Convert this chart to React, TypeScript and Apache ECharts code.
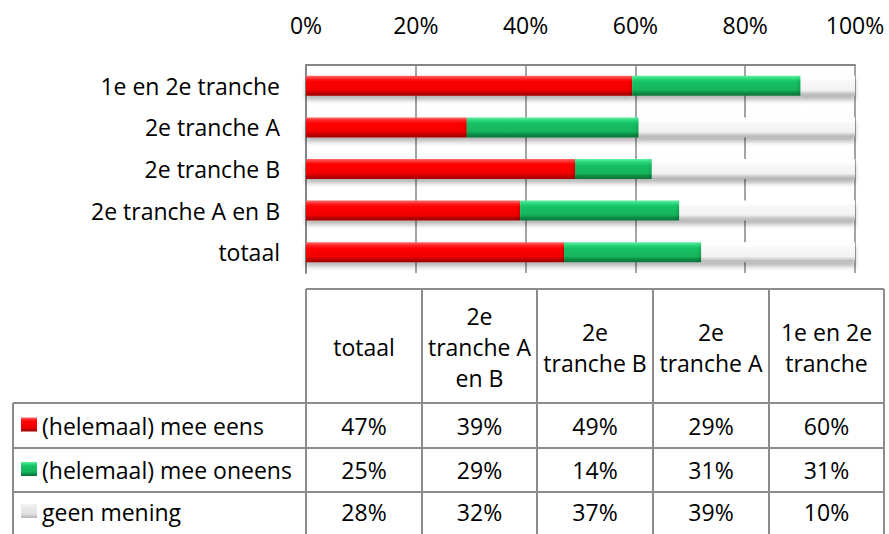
import React, { useEffect, useRef } from "react";
import * as echarts from "echarts";

const categories = ["totaal", "2e tranche A en B", "2e tranche B", "2e tranche A", "1e en 2e tranche"];
const headerLabels = ["totaal", "2e\ntranche A\nen B", "2e\ntranche B", "2e\ntranche A", "1e en 2e\ntranche"];
const seriesNames = ["(helemaal) mee eens", "(helemaal) mee oneens", "geen mening"];
const meeEens = [47, 39, 49, 29, 60];
const meeOneens = [25, 29, 14, 31, 31];
const geenMening = [28, 32, 37, 39, 10];

const FONT_FAMILY = '"Open Sans", sans-serif';
const FS = 23;

const palettes = [
  ["#ff6a6a", "#ff1a1a", "#ff0000", "#f00000", "#c00000", "#a00000"],
  ["#5cf0a0", "#25d276", "#17c265", "#13b35c", "#0c8d45", "#0a733a"],
  ["#ffffff", "#fdfdfd", "#f7f7f7", "#f2f2f2", "#d0d0d0", "#b0b0b0"],
];
const keyPalettes = [
  palettes[0],
  palettes[1],
  ["#f4f4f4", "#eeeeee", "#e8e8e8", "#e2e2e2", "#c8c8c8", "#b4b4b4"],
];

function grad(p: string[]) {
  return new echarts.graphic.LinearGradient(0, 0, 0, 1, [
    { offset: 0, color: p[0] },
    { offset: 0.18, color: p[1] },
    { offset: 0.3, color: p[2] },
    { offset: 0.72, color: p[3] },
    { offset: 0.85, color: p[4] },
    { offset: 1, color: p[5] },
  ]);
}

export default function App() {
  const ref = useRef<HTMLDivElement>(null);
  useEffect(() => {
    if (!ref.current) return;
    const chart = echarts.init(ref.current, null, { renderer: "svg" });
    const raw = [meeEens, meeOneens, geenMening];
    const totals = categories.map((_, i) => raw.reduce((s, arr) => s + arr[i], 0));
    const pct = raw.map((arr) => arr.map((v, i) => (v / totals[i]) * 100));

    // table layout
    const colX = [13, 306, 422, 537, 653, 769, 884];
    const rowY = [289, 403, 448, 492, 532];
    const lineColor = "#8c8c8c";
    const g: any[] = [];
    const line = (x1: number, y1: number, x2: number, y2: number) =>
      g.push({ type: "line", shape: { x1, y1, x2, y2 }, style: { stroke: lineColor, lineWidth: 2 }, silent: true });
    line(colX[1], rowY[0], colX[6], rowY[0]);
    for (let c = 1; c < colX.length; c++) line(colX[c], rowY[0], colX[c], 540);
    line(colX[0], rowY[1], colX[0], 540);
    for (let r = 1; r < 4; r++) line(colX[0], rowY[r], colX[6], rowY[r]);
    headerLabels.forEach((h, i) => {
      g.push({
        type: "text",
        x: (colX[i + 1] + colX[i + 2]) / 2,
        y: (rowY[0] + rowY[1]) / 2 + 1,
        style: {
          text: h,
          font: `${FS}px ${FONT_FAMILY}`,
          fill: "#000",
          align: "center",
          verticalAlign: "middle",
          lineHeight: 31,
        },
      });
    });
    seriesNames.forEach((name, r) => {
      const cy = (rowY[r + 1] + rowY[r + 2]) / 2;
      g.push({
        type: "rect",
        shape: { x: 21, y: cy - 8, width: 16, height: 14 },
        style: { fill: grad(keyPalettes[r]) },
      });
      g.push({
        type: "text",
        x: 42,
        y: cy,
        style: { text: name, font: `${FS}px ${FONT_FAMILY}`, fill: "#000", align: "left", verticalAlign: "middle" },
      });
      raw[r].forEach((v, i) => {
        g.push({
          type: "text",
          x: (colX[i + 1] + colX[i + 2]) / 2,
          y: cy,
          style: { text: `${v}%`, font: `${FS}px ${FONT_FAMILY}`, fill: "#000", align: "center", verticalAlign: "middle" },
        });
      });
    });

    chart.setOption({
      animation: false,
      textStyle: { fontFamily: FONT_FAMILY },
      grid: { left: 306, right: 34, top: 65, bottom: 261, containLabel: false },
      xAxis: {
        type: "value",
        position: "top",
        min: 0,
        max: 100,
        interval: 20,
        axisLine: { show: true, lineStyle: { color: "#868686", width: 2 } },
        axisTick: { show: false },
        splitLine: { show: true, lineStyle: { color: "#868686", width: 1.5 } },
        axisLabel: { formatter: "{value}%", fontSize: FS, color: "#000", margin: 29, fontFamily: FONT_FAMILY },
      },
      yAxis: {
        type: "category",
        data: categories,
        axisLine: { show: true, lineStyle: { color: "#868686", width: 2 } },
        axisTick: { show: false },
        axisLabel: { fontSize: FS, color: "#000", margin: 26, fontFamily: FONT_FAMILY },
      },
      series: pct.map((d, k) => ({
        name: seriesNames[k],
        type: "bar",
        stack: "total",
        barWidth: 20,
        data: d,
        itemStyle: {
          color: grad(palettes[k]),
          shadowColor: "rgba(0,0,0,0.3)",
          shadowBlur: 5,
          shadowOffsetY: 4,
        },
      })),
      graphic: g,
    });
    return () => chart.dispose();
  }, []);
  return <div ref={ref} style={{ width: 889, height: 534, position: "absolute", left: 0, top: 0 }} />;
}
